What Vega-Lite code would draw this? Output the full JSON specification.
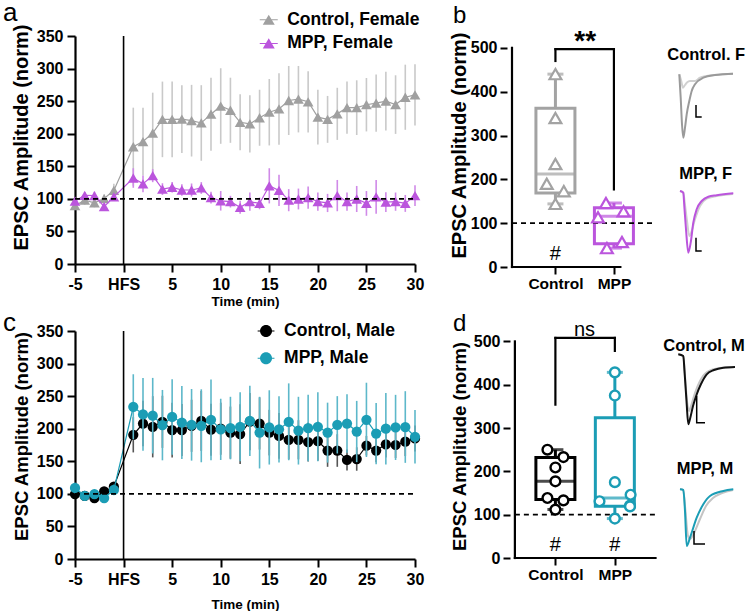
{
"$schema": "https://vega.github.io/schema/vega-lite/v6.json",
"padding": {"left": 3, "top": 0, "right": 0, "bottom": 0},
"config": {
  "font": "Liberation Sans",
  "view": {"stroke": null},
  "axis": {"domainColor": "black", "domainWidth": 2.2, "tickColor": "black", "tickWidth": 2, "labelColor": "black", "labelFont": "Liberation Sans", "labelFontWeight": "bold", "labelFontSize": 16, "titleFont": "Liberation Sans", "titleFontWeight": "bold", "titleColor": "black", "grid": false, "labelOverlap": false, "labelFlush": false},
  "text": {"font": "Liberation Sans", "color": "black"},
  "legend": {"labelFont": "Liberation Sans", "labelColor": "black"}
},
"resolve": {"scale": {"color": "independent", "stroke": "independent"}, "legend": {"color": "independent", "stroke": "independent"}},
"datasets": {
  "one": [{"k": 1}],
  "fem": [
    {"s":"Control, Female","t":-5,"mean":89.5,"sem":6},{"s":"Control, Female","t":-4,"mean":98,"sem":7},{"s":"Control, Female","t":-3,"mean":94,"sem":7},{"s":"Control, Female","t":-2,"mean":100.5,"sem":6},{"s":"Control, Female","t":-1,"mean":113,"sem":10},
    {"s":"Control, Female","t":1,"mean":180,"sem":60},{"s":"Control, Female","t":2,"mean":188,"sem":52},{"s":"Control, Female","t":3,"mean":201,"sem":62},{"s":"Control, Female","t":4,"mean":222,"sem":58},{"s":"Control, Female","t":5,"mean":222,"sem":58},
    {"s":"Control, Female","t":6,"mean":222.5,"sem":52},{"s":"Control, Female","t":7,"mean":220,"sem":55},{"s":"Control, Female","t":8,"mean":216.5,"sem":58},{"s":"Control, Female","t":9,"mean":230,"sem":56},{"s":"Control, Female","t":10,"mean":242.5,"sem":58},
    {"s":"Control, Female","t":11,"mean":236,"sem":50},{"s":"Control, Female","t":12,"mean":217.5,"sem":43},{"s":"Control, Female","t":13,"mean":215,"sem":44},{"s":"Control, Female","t":14,"mean":224.5,"sem":43},{"s":"Control, Female","t":15,"mean":233,"sem":51},
    {"s":"Control, Female","t":16,"mean":238,"sem":55},{"s":"Control, Female","t":17,"mean":251,"sem":53},{"s":"Control, Female","t":18,"mean":253,"sem":51},{"s":"Control, Female","t":19,"mean":249,"sem":47},{"s":"Control, Female","t":20,"mean":225.5,"sem":42},
    {"s":"Control, Female","t":21,"mean":222,"sem":36},{"s":"Control, Female","t":22,"mean":230.5,"sem":40},{"s":"Control, Female","t":23,"mean":240,"sem":40},{"s":"Control, Female","t":24,"mean":240,"sem":42},{"s":"Control, Female","t":25,"mean":244.5,"sem":41},
    {"s":"Control, Female","t":26,"mean":247,"sem":44},{"s":"Control, Female","t":27,"mean":250,"sem":45},{"s":"Control, Female","t":28,"mean":244.7,"sem":45},{"s":"Control, Female","t":29,"mean":256,"sem":50},{"s":"Control, Female","t":30,"mean":259.6,"sem":47},
    {"s":"MPP, Female","t":-5,"mean":96.5,"sem":5},{"s":"MPP, Female","t":-4,"mean":105.5,"sem":5},{"s":"MPP, Female","t":-3,"mean":105,"sem":6},{"s":"MPP, Female","t":-2,"mean":88,"sem":6},{"s":"MPP, Female","t":-1,"mean":103,"sem":5},
    {"s":"MPP, Female","t":1,"mean":132,"sem":15},{"s":"MPP, Female","t":2,"mean":123,"sem":13},{"s":"MPP, Female","t":3,"mean":135.6,"sem":10},{"s":"MPP, Female","t":4,"mean":115,"sem":9},{"s":"MPP, Female","t":5,"mean":117.7,"sem":8},
    {"s":"MPP, Female","t":6,"mean":113.6,"sem":9},{"s":"MPP, Female","t":7,"mean":113.6,"sem":10},{"s":"MPP, Female","t":8,"mean":116.7,"sem":9},{"s":"MPP, Female","t":9,"mean":102,"sem":9},{"s":"MPP, Female","t":10,"mean":97,"sem":15},
    {"s":"MPP, Female","t":11,"mean":95.7,"sem":9},{"s":"MPP, Female","t":12,"mean":87,"sem":10},{"s":"MPP, Female","t":13,"mean":95.7,"sem":14},{"s":"MPP, Female","t":14,"mean":93,"sem":9},{"s":"MPP, Female","t":15,"mean":120,"sem":27},
    {"s":"MPP, Female","t":16,"mean":113,"sem":24},{"s":"MPP, Female","t":17,"mean":98,"sem":17},{"s":"MPP, Female","t":18,"mean":99.8,"sem":16},{"s":"MPP, Female","t":19,"mean":102,"sem":17},{"s":"MPP, Female","t":20,"mean":95.7,"sem":14},
    {"s":"MPP, Female","t":21,"mean":93.7,"sem":14},{"s":"MPP, Female","t":22,"mean":105,"sem":24},{"s":"MPP, Female","t":23,"mean":95.7,"sem":14},{"s":"MPP, Female","t":24,"mean":99.8,"sem":20},{"s":"MPP, Female","t":25,"mean":93,"sem":19},
    {"s":"MPP, Female","t":26,"mean":103,"sem":26},{"s":"MPP, Female","t":27,"mean":95,"sem":15},{"s":"MPP, Female","t":28,"mean":95.7,"sem":14},{"s":"MPP, Female","t":29,"mean":93,"sem":13},{"s":"MPP, Female","t":30,"mean":105,"sem":16}
  ],
  "mal": [
    {"s":"Control, Male","t":-5,"mean":99.7,"sem":5},{"s":"Control, Male","t":-4,"mean":97,"sem":5},{"s":"Control, Male","t":-3,"mean":93.6,"sem":6},{"s":"Control, Male","t":-2,"mean":103.7,"sem":6},{"s":"Control, Male","t":-1,"mean":111,"sem":7},
    {"s":"Control, Male","t":1,"mean":190.6,"sem":27},{"s":"Control, Male","t":2,"mean":208,"sem":35},{"s":"Control, Male","t":3,"mean":203,"sem":47},{"s":"Control, Male","t":4,"mean":210.6,"sem":40},{"s":"Control, Male","t":5,"mean":198,"sem":42},
    {"s":"Control, Male","t":6,"mean":198,"sem":40},{"s":"Control, Male","t":7,"mean":204.5,"sem":40},{"s":"Control, Male","t":8,"mean":212,"sem":46},{"s":"Control, Male","t":9,"mean":198.5,"sem":40},{"s":"Control, Male","t":10,"mean":200,"sem":40},
    {"s":"Control, Male","t":11,"mean":194,"sem":40},{"s":"Control, Male","t":12,"mean":191.7,"sem":46},{"s":"Control, Male","t":13,"mean":211,"sem":44},{"s":"Control, Male","t":14,"mean":208,"sem":40},{"s":"Control, Male","t":15,"mean":194,"sem":35},
    {"s":"Control, Male","t":16,"mean":189,"sem":35},{"s":"Control, Male","t":17,"mean":183,"sem":30},{"s":"Control, Male","t":18,"mean":183,"sem":30},{"s":"Control, Male","t":19,"mean":179.5,"sem":30},{"s":"Control, Male","t":20,"mean":181,"sem":30},
    {"s":"Control, Male","t":21,"mean":166.5,"sem":25},{"s":"Control, Male","t":22,"mean":166.5,"sem":25},{"s":"Control, Male","t":23,"mean":152,"sem":16},{"s":"Control, Male","t":24,"mean":153.5,"sem":18},{"s":"Control, Male","t":25,"mean":174,"sem":15},
    {"s":"Control, Male","t":26,"mean":166.5,"sem":18},{"s":"Control, Male","t":27,"mean":176,"sem":20},{"s":"Control, Male","t":28,"mean":175,"sem":20},{"s":"Control, Male","t":29,"mean":180,"sem":22},{"s":"Control, Male","t":30,"mean":185,"sem":20},
    {"s":"MPP, Male","t":-5,"mean":109,"sem":8},{"s":"MPP, Male","t":-4,"mean":97,"sem":6},{"s":"MPP, Male","t":-3,"mean":99.7,"sem":7},{"s":"MPP, Male","t":-2,"mean":93.6,"sem":7},{"s":"MPP, Male","t":-1,"mean":106,"sem":8},
    {"s":"MPP, Male","t":1,"mean":233.6,"sem":50},{"s":"MPP, Male","t":2,"mean":222,"sem":56},{"s":"MPP, Male","t":3,"mean":220,"sem":58},{"s":"MPP, Male","t":4,"mean":205.5,"sem":54},{"s":"MPP, Male","t":5,"mean":218,"sem":58},
    {"s":"MPP, Male","t":6,"mean":209.5,"sem":56},{"s":"MPP, Male","t":7,"mean":206,"sem":55},{"s":"MPP, Male","t":8,"mean":204.5,"sem":56},{"s":"MPP, Male","t":9,"mean":213.6,"sem":62},{"s":"MPP, Male","t":10,"mean":199,"sem":47},
    {"s":"MPP, Male","t":11,"mean":201,"sem":48},{"s":"MPP, Male","t":12,"mean":203,"sem":53},{"s":"MPP, Male","t":13,"mean":212,"sem":54},{"s":"MPP, Male","t":14,"mean":194,"sem":55},{"s":"MPP, Male","t":15,"mean":202,"sem":57},
    {"s":"MPP, Male","t":16,"mean":199,"sem":51},{"s":"MPP, Male","t":17,"mean":210.6,"sem":59},{"s":"MPP, Male","t":18,"mean":197,"sem":52},{"s":"MPP, Male","t":19,"mean":201,"sem":51},{"s":"MPP, Male","t":20,"mean":203,"sem":53},
    {"s":"MPP, Male","t":21,"mean":194,"sem":46},{"s":"MPP, Male","t":22,"mean":206,"sem":44},{"s":"MPP, Male","t":23,"mean":208,"sem":45},{"s":"MPP, Male","t":24,"mean":195.7,"sem":47},{"s":"MPP, Male","t":25,"mean":213.6,"sem":57},
    {"s":"MPP, Male","t":26,"mean":192.6,"sem":47},{"s":"MPP, Male","t":27,"mean":200,"sem":55},{"s":"MPP, Male","t":28,"mean":202,"sem":50},{"s":"MPP, Male","t":29,"mean":202.6,"sem":55},{"s":"MPP, Male","t":30,"mean":187.6,"sem":41}
  ],
  "bstats": [
    {"g":"Control","pos":1,"min":144,"q1":169,"med":212,"q3":362,"max":440},
    {"g":"MPP","pos":2,"min":43,"q1":53,"med":116,"q3":135,"max":146}
  ],
  "bpts": [
    {"g":"Control","x":1,"v":440},{"g":"Control","x":1,"v":340},{"g":"Control","x":1,"v":235},{"g":"Control","x":0.852,"v":190},{"g":"Control","x":1.143,"v":173},{"g":"Control","x":1,"v":144},
    {"g":"MPP","x":1.864,"v":146},{"g":"MPP","x":1.728,"v":113.5},{"g":"MPP","x":2.164,"v":127},{"g":"MPP","x":2.138,"v":57},{"g":"MPP","x":1.88,"v":43}
  ],
  "dstats": [
    {"g":"Control","pos":1,"min":112,"q1":135,"med":177,"q3":232,"max":250},
    {"g":"MPP","pos":2,"min":91,"q1":119.5,"med":138.5,"q3":324,"max":428.5}
  ],
  "dpts": [
    {"g":"Control","x":0.866,"v":250},{"g":"Control","x":1.135,"v":233},{"g":"Control","x":1,"v":209},{"g":"Control","x":1,"v":177},{"g":"Control","x":0.866,"v":138.5},{"g":"Control","x":1.135,"v":133},{"g":"Control","x":1,"v":111.7},
    {"g":"MPP","x":2,"v":428.5},{"g":"MPP","x":2,"v":375},{"g":"MPP","x":2,"v":175},{"g":"MPP","x":2.265,"v":146},{"g":"MPP","x":1.742,"v":131},{"g":"MPP","x":2.255,"v":121},{"g":"MPP","x":2.255,"v":119},{"g":"MPP","x":2,"v":91}
  ],
  "tr": [
    {"p":"CF","k":"light","t":19.3,"v":-1.3},{"p":"CF","k":"light","t":21,"v":-7},{"p":"CF","k":"light","t":23,"v":-14.7},{"p":"CF","k":"light","t":25,"v":-12},{"p":"CF","k":"light","t":27,"v":-9.5},{"p":"CF","k":"light","t":30,"v":-8},{"p":"CF","k":"light","t":35,"v":-8},{"p":"CF","k":"light","t":40,"v":-4.7},{"p":"CF","k":"light","t":46.7,"v":-3},{"p":"CF","k":"light","t":60,"v":-1.5},{"p":"CF","k":"light","t":73,"v":-0.7},
    {"p":"CF","k":"dark","t":19.3,"v":-1.3},{"p":"CF","k":"dark","t":20.7,"v":-24.7},{"p":"CF","k":"dark","t":22,"v":-51.3},{"p":"CF","k":"dark","t":23.3,"v":-64.7},{"p":"CF","k":"dark","t":25,"v":-54.7},{"p":"CF","k":"dark","t":26.7,"v":-41.3},{"p":"CF","k":"dark","t":29.3,"v":-28},{"p":"CF","k":"dark","t":31.7,"v":-18},{"p":"CF","k":"dark","t":35,"v":-11.3},{"p":"CF","k":"dark","t":43.3,"v":-4.7},{"p":"CF","k":"dark","t":55,"v":-2},{"p":"CF","k":"dark","t":73,"v":-0.7},
    {"p":"CF","k":"bar","i":0,"t":36,"v":-32},{"p":"CF","k":"bar","i":1,"t":36,"v":-44},{"p":"CF","k":"bar","i":2,"t":41.7,"v":-44},
    {"p":"MF","k":"light","t":20,"v":2},{"p":"MF","k":"light","t":23.3,"v":0.3},{"p":"MF","k":"light","t":25,"v":-12},{"p":"MF","k":"light","t":27,"v":-28},{"p":"MF","k":"light","t":29.3,"v":-43},{"p":"MF","k":"light","t":31.7,"v":-38},{"p":"MF","k":"light","t":35,"v":-26.3},{"p":"MF","k":"light","t":40,"v":-13},{"p":"MF","k":"light","t":46.7,"v":-5.7},{"p":"MF","k":"light","t":56.7,"v":-3},{"p":"MF","k":"light","t":73,"v":-1},
    {"p":"MF","k":"dark","t":20,"v":2},{"p":"MF","k":"dark","t":23.3,"v":0.3},{"p":"MF","k":"dark","t":24.3,"v":-13},{"p":"MF","k":"dark","t":26,"v":-36.3},{"p":"MF","k":"dark","t":28.3,"v":-59.7},{"p":"MF","k":"dark","t":30.7,"v":-49.7},{"p":"MF","k":"dark","t":33.3,"v":-29.7},{"p":"MF","k":"dark","t":36.7,"v":-16.3},{"p":"MF","k":"dark","t":41.7,"v":-8},{"p":"MF","k":"dark","t":48.3,"v":-3.7},{"p":"MF","k":"dark","t":56.7,"v":-2.3},{"p":"MF","k":"dark","t":73.3,"v":-0.3},
    {"p":"MF","k":"bar","i":0,"t":36,"v":-44.7},{"p":"MF","k":"bar","i":1,"t":36,"v":-58},{"p":"MF","k":"bar","i":2,"t":41.7,"v":-58},
    {"p":"CM","k":"light","t":18.3,"v":12.7},{"p":"CM","k":"light","t":23.3,"v":11},{"p":"CM","k":"light","t":25,"v":-9},{"p":"CM","k":"light","t":27,"v":-34},{"p":"CM","k":"light","t":29,"v":-44},{"p":"CM","k":"light","t":31,"v":-39},{"p":"CM","k":"light","t":35,"v":-26},{"p":"CM","k":"light","t":40,"v":-14},{"p":"CM","k":"light","t":47,"v":-5},{"p":"CM","k":"light","t":60,"v":-1},{"p":"CM","k":"light","t":75,"v":0},
    {"p":"CM","k":"dark","t":18.3,"v":12.7},{"p":"CM","k":"dark","t":23.3,"v":11},{"p":"CM","k":"dark","t":24.5,"v":-4},{"p":"CM","k":"dark","t":26.5,"v":-34},{"p":"CM","k":"dark","t":28.3,"v":-57.3},{"p":"CM","k":"dark","t":30,"v":-52},{"p":"CM","k":"dark","t":33,"v":-39},{"p":"CM","k":"dark","t":36.7,"v":-27.3},{"p":"CM","k":"dark","t":41,"v":-17},{"p":"CM","k":"dark","t":46.7,"v":-7.3},{"p":"CM","k":"dark","t":54,"v":-3},{"p":"CM","k":"dark","t":63.3,"v":-0.7},{"p":"CM","k":"dark","t":75,"v":0},
    {"p":"CM","k":"bar","i":0,"t":36.7,"v":-29},{"p":"CM","k":"bar","i":1,"t":36.7,"v":-55.7},{"p":"CM","k":"bar","i":2,"t":45,"v":-55.7},
    {"p":"MM","k":"light","t":20,"v":0},{"p":"MM","k":"light","t":23.3,"v":-1},{"p":"MM","k":"light","t":25,"v":-17},{"p":"MM","k":"light","t":28,"v":-47},{"p":"MM","k":"light","t":30,"v":-50},{"p":"MM","k":"light","t":35,"v":-42},{"p":"MM","k":"light","t":40,"v":-30},{"p":"MM","k":"light","t":46,"v":-17},{"p":"MM","k":"light","t":53,"v":-9},{"p":"MM","k":"light","t":62,"v":-4},{"p":"MM","k":"light","t":73,"v":-1},
    {"p":"MM","k":"dark","t":20,"v":-0.3},{"p":"MM","k":"dark","t":23.3,"v":-1},{"p":"MM","k":"dark","t":25,"v":-22},{"p":"MM","k":"dark","t":26.7,"v":-57},{"p":"MM","k":"dark","t":30,"v":-48.7},{"p":"MM","k":"dark","t":36.7,"v":-28.7},{"p":"MM","k":"dark","t":43.3,"v":-15.3},{"p":"MM","k":"dark","t":50,"v":-7},{"p":"MM","k":"dark","t":63.3,"v":-2},{"p":"MM","k":"dark","t":73.3,"v":-0.3},
    {"p":"MM","k":"bar","i":0,"t":34,"v":-42},{"p":"MM","k":"bar","i":1,"t":34,"v":-55},{"p":"MM","k":"bar","i":2,"t":45,"v":-55}
  ]
},
"columns": 2,
"spacing": {"row": 64, "column": 92},
"bounds": "flush",
"align": "each",
"concat": [
  {
    "width": 340, "height": 228,
    "layer": [
      {
        "data": {"name": "fem"},
        "encoding": {
          "x": {"field": "t", "type": "quantitative", "scale": {"domain": [-5, 30], "nice": false, "zero": false},
                "axis": {"values": [-5,0,5,10,15,20,25,30], "labelExpr": "datum.value == 0 ? 'HFS' : '' + datum.value", "tickSize": 8, "labelPadding": 4, "title": "Time (min)", "titleFontSize": 13.5, "titleY": 41, "titleBaseline": "alphabetic"}},
          "y": {"field": "mean", "type": "quantitative", "scale": {"domain": [0, 350], "nice": false, "zero": false},
                "axis": {"values": [0,50,100,150,200,250,300,350], "tickSize": 8, "labelPadding": 4, "title": "EPSC Amplitude (norm)", "titleFontSize": 20, "titleX": -48, "titleY": 101, "titleBaseline": "alphabetic"}}
        },
        "layer": [
          {"transform": [{"filter": "datum.s == 'Control, Female'"}], "mark": {"type": "errorbar", "color": "#c9c9c9", "thickness": 1.6}, "encoding": {"yError": {"field": "sem"}}},
          {"transform": [{"filter": "datum.s == 'Control, Female'"}], "mark": {"type": "line", "color": "#a0a0a0", "strokeWidth": 1.2}},
          {"transform": [{"filter": "datum.s == 'Control, Female'"}], "mark": {"type": "point", "shape": "triangle-up", "filled": true, "size": 115, "opacity": 1},
           "encoding": {"color": {"field": "s", "type": "nominal", "scale": {"domain": ["Control, Female", "MPP, Female"], "range": ["#a0a0a0", "#bb55dd"]},
             "legend": {"orient": "none", "legendX": 185, "legendY": -25, "title": null, "symbolType": "M-1.5,-0.09H1.5V0.09H-1.5ZM0,-0.85L1,0.85H-1Z", "symbolSize": 144, "symbolOpacity": 1, "symbolStrokeWidth": 0, "labelFontSize": 17.5, "labelFontWeight": "bold", "labelOffset": 9.7, "rowPadding": 4.7, "padding": 0}}}},
          {"transform": [{"filter": "datum.s == 'MPP, Female'"}], "mark": {"type": "errorbar", "color": "#d08ae8", "thickness": 1.6}, "encoding": {"yError": {"field": "sem"}}},
          {"transform": [{"filter": "datum.s == 'MPP, Female'"}], "mark": {"type": "line", "color": "#bb55dd", "strokeWidth": 1.2}},
          {"transform": [{"filter": "datum.s == 'MPP, Female'"}], "mark": {"type": "point", "shape": "triangle-up", "filled": true, "size": 115, "opacity": 1},
           "encoding": {"color": {"field": "s", "type": "nominal", "scale": {"domain": ["Control, Female", "MPP, Female"], "range": ["#a0a0a0", "#bb55dd"]},
             "legend": {"orient": "none", "legendX": 185, "legendY": -25, "title": null, "symbolType": "M-1.5,-0.09H1.5V0.09H-1.5ZM0,-0.85L1,0.85H-1Z", "symbolSize": 144, "symbolOpacity": 1, "symbolStrokeWidth": 0, "labelFontSize": 17.5, "labelFontWeight": "bold", "labelOffset": 9.7, "rowPadding": 4.7, "padding": 0}}}}
        ]
      },
      {
        "data": {"name": "one"},
        "layer": [
          {"mark": {"type": "rule", "strokeDash": [5, 4], "strokeWidth": 1.8, "color": "black"},
           "encoding": {
             "x": {"datum": -5, "type": "quantitative", "scale": {"domain": [-5, 30], "nice": false, "zero": false},
                   "axis": {"values": [-5,0,5,10,15,20,25,30], "labelExpr": "datum.value == 0 ? 'HFS' : '' + datum.value", "tickSize": 8, "labelPadding": 4, "title": "Time (min)", "titleFontSize": 13.5, "titleY": 41, "titleBaseline": "alphabetic"}},
             "x2": {"datum": 30},
             "y": {"datum": 100, "type": "quantitative", "scale": {"domain": [0, 350], "nice": false, "zero": false},
                   "axis": {"values": [0,50,100,150,200,250,300,350], "tickSize": 8, "labelPadding": 4, "title": "EPSC Amplitude (norm)", "titleFontSize": 20, "titleX": -48, "titleY": 101, "titleBaseline": "alphabetic"}}}},
          {"mark": {"type": "rule", "strokeWidth": 1.6, "color": "black"},
           "encoding": {
             "x": {"datum": 0, "type": "quantitative", "scale": {"domain": [-5, 30], "nice": false, "zero": false},
                   "axis": {"values": [-5,0,5,10,15,20,25,30], "labelExpr": "datum.value == 0 ? 'HFS' : '' + datum.value", "tickSize": 8, "labelPadding": 4, "title": "Time (min)", "titleFontSize": 13.5, "titleY": 41, "titleBaseline": "alphabetic"}},
             "y": {"datum": 0, "type": "quantitative", "scale": {"domain": [0, 350], "nice": false, "zero": false},
                   "axis": {"values": [0,50,100,150,200,250,300,350], "tickSize": 8, "labelPadding": 4, "title": "EPSC Amplitude (norm)", "titleFontSize": 20, "titleX": -48, "titleY": 101, "titleBaseline": "alphabetic"}},
             "y2": {"datum": 350}}},
          {"mark": {"type": "text", "text": "a", "align": "left", "baseline": "alphabetic", "fontSize": 26},
           "encoding": {
             "x": {"datum": -12.41, "type": "quantitative", "scale": {"domain": [-5, 30], "nice": false, "zero": false},
                   "axis": {"values": [-5,0,5,10,15,20,25,30], "labelExpr": "datum.value == 0 ? 'HFS' : '' + datum.value", "tickSize": 8, "labelPadding": 4, "title": "Time (min)", "titleFontSize": 13.5, "titleY": 41, "titleBaseline": "alphabetic"}},
             "y": {"datum": 372.7, "type": "quantitative", "scale": {"domain": [0, 350], "nice": false, "zero": false},
                   "axis": {"values": [0,50,100,150,200,250,300,350], "tickSize": 8, "labelPadding": 4, "title": "EPSC Amplitude (norm)", "titleFontSize": 20, "titleX": -48, "titleY": 101, "titleBaseline": "alphabetic"}}}}
        ]
      }
    ]
  },
  {
    "width": 243, "height": 231,
    "resolve": {"scale": {"x": "independent", "y": "independent"}},
    "layer": [
      {
        "layer": [
          {"data": {"name": "bstats"}, "mark": {"type": "bar", "size": 39, "fillOpacity": 0, "strokeWidth": 3},
           "encoding": {
            "x": {"field": "pos", "type": "quantitative", "scale": {"domain": [0.2574, 4.241], "nice": false, "zero": false},
                  "axis": {"orient": "bottom", "values": [1, 2], "labelExpr": "datum.value == 1 ? 'Control' : 'MPP'", "domain": false, "tickSize": 7, "labelPadding": 2, "labelFontSize": 15.5, "title": null}},
            "y": {"field": "q1", "type": "quantitative", "scale": {"domain": [0, 527], "nice": false, "zero": false},
                  "axis": {"orient": "left", "values": [0,100,200,300,400,500], "domain": false, "tickSize": 7, "labelPadding": 3, "title": "EPSC Amplitude (norm)", "titleFontSize": 20, "titleX": -42, "titleY": 109, "titleBaseline": "alphabetic"}},
            "y2": {"field": "q3"},
            "stroke": {"field": "g", "type": "nominal", "scale": {"domain": ["Control", "MPP"], "range": ["#a3a3a3", "#bb55dd"]}, "legend": null}}},
          {"data": {"name": "one"}, "mark": {"type": "rule", "strokeDash": [5, 4], "strokeWidth": 1.8, "color": "black"}, "encoding": {"x": {"datum": 0.2574}, "x2": {"datum": 2.711}, "y": {"datum": 100}}},
          {"data": {"name": "one"}, "mark": {"type": "rule", "strokeWidth": 2.2, "color": "black", "strokeCap": "square"}, "encoding": {"x": {"datum": 0.2574}, "y": {"datum": 0}, "y2": {"datum": 500}}},
          {"data": {"name": "one"}, "mark": {"type": "rule", "strokeWidth": 2.2, "color": "black", "strokeCap": "square"}, "encoding": {"x": {"datum": 0.2574}, "x2": {"datum": 2.11}, "y": {"datum": 0}}},
          {"data": {"name": "bstats"}, "mark": {"type": "rule", "strokeWidth": 3}, "encoding": {"x": {"field": "pos", "type": "quantitative"}, "y": {"field": "q3", "type": "quantitative"}, "y2": {"field": "max"}, "stroke": {"field": "g", "type": "nominal", "legend": null}}},
          {"data": {"name": "bstats"}, "mark": {"type": "rule", "strokeWidth": 3}, "encoding": {"x": {"field": "pos", "type": "quantitative"}, "y": {"field": "min", "type": "quantitative"}, "y2": {"field": "q1"}, "stroke": {"field": "g", "type": "nominal", "legend": null}}},
          {"data": {"name": "bstats"}, "mark": {"type": "tick", "orient": "horizontal", "size": 39, "thickness": 3}, "encoding": {"x": {"field": "pos", "type": "quantitative"}, "y": {"field": "med", "type": "quantitative"}, "color": {"field": "g", "type": "nominal", "scale": {"domain": ["Control", "MPP"], "range": ["#a3a3a3", "#bb55dd"]}, "legend": null}}},
          {"data": {"name": "bstats"}, "mark": {"type": "tick", "orient": "horizontal", "size": 16, "thickness": 3}, "encoding": {"x": {"field": "pos", "type": "quantitative"}, "y": {"field": "max", "type": "quantitative"}, "color": {"field": "g", "type": "nominal", "legend": null}}},
          {"data": {"name": "bstats"}, "mark": {"type": "tick", "orient": "horizontal", "size": 16, "thickness": 3}, "encoding": {"x": {"field": "pos", "type": "quantitative"}, "y": {"field": "min", "type": "quantitative"}, "color": {"field": "g", "type": "nominal", "legend": null}}},
          {"data": {"name": "bpts"}, "mark": {"type": "point", "shape": "triangle-up", "filled": true, "fill": "white", "size": 140, "strokeWidth": 2.2, "opacity": 1},
           "encoding": {"x": {"field": "x", "type": "quantitative"}, "y": {"field": "v", "type": "quantitative"}, "stroke": {"field": "g", "type": "nominal", "legend": null}}},
          {"data": {"name": "one"}, "mark": {"type": "rule", "strokeWidth": 2.2, "color": "black", "strokeCap": "square"}, "encoding": {"x": {"datum": 1}, "y": {"datum": 470}, "y2": {"datum": 497}}},
          {"data": {"name": "one"}, "mark": {"type": "rule", "strokeWidth": 2.2, "color": "black", "strokeCap": "square"}, "encoding": {"x": {"datum": 1}, "x2": {"datum": 2}, "y": {"datum": 497}}},
          {"data": {"name": "one"}, "mark": {"type": "rule", "strokeWidth": 2.2, "color": "black", "strokeCap": "square"}, "encoding": {"x": {"datum": 2}, "y": {"datum": 177}, "y2": {"datum": 497}}},
          {"data": {"name": "one"}, "mark": {"type": "text", "text": "**", "align": "center", "baseline": "alphabetic", "fontSize": 28, "fontWeight": "bold"}, "encoding": {"x": {"datum": 1.508}, "y": {"datum": 495}}},
          {"data": {"name": "one"}, "mark": {"type": "text", "text": "#", "align": "center", "baseline": "alphabetic", "fontSize": 20}, "encoding": {"x": {"datum": 1}, "y": {"datum": 17}}},
          {"data": {"name": "one"}, "mark": {"type": "text", "text": "b", "align": "left", "baseline": "alphabetic", "fontSize": 24}, "encoding": {"x": {"datum": -0.751}, "y": {"datum": 557}}}
        ]
      },
      {
        "data": {"name": "tr"},
        "layer": [
          {"transform": [{"filter": "datum.p == 'CF' && datum.k == 'light'"}], "mark": {"type": "line", "color": "#d0d0d0", "strokeWidth": 2, "interpolate": "monotone"},
           "encoding": {"x": {"field": "t", "type": "quantitative", "scale": {"domain": [-153, 90], "nice": false, "zero": false}, "axis": null}, "y": {"field": "v", "type": "quantitative", "scale": {"domain": [-194, 37], "nice": false, "zero": false}, "axis": null}}},
          {"transform": [{"filter": "datum.p == 'CF' && datum.k == 'dark'"}], "mark": {"type": "line", "color": "#9a9a9a", "strokeWidth": 2, "interpolate": "monotone"},
           "encoding": {"x": {"field": "t", "type": "quantitative", "axis": null}, "y": {"field": "v", "type": "quantitative", "axis": null}}},
          {"transform": [{"filter": "datum.p == 'CF' && datum.k == 'bar'"}], "mark": {"type": "line", "color": "black", "strokeWidth": 1.5},
           "encoding": {"x": {"field": "t", "type": "quantitative", "axis": null}, "y": {"field": "v", "type": "quantitative", "axis": null}, "order": {"field": "i", "type": "quantitative"}}},
          {"data": {"name": "one"}, "mark": {"type": "text", "text": "Control. F", "align": "left", "baseline": "alphabetic", "fontSize": 16.5, "fontWeight": "bold"}, "encoding": {"x": {"datum": 7.3, "axis": null}, "y": {"datum": 12.7, "axis": null}}}
        ]
      },
      {
        "data": {"name": "tr"},
        "layer": [
          {"transform": [{"filter": "datum.p == 'MF' && datum.k == 'light'"}], "mark": {"type": "line", "color": "#d0d0d0", "strokeWidth": 2, "interpolate": "monotone"},
           "encoding": {"x": {"field": "t", "type": "quantitative", "scale": {"domain": [-153, 90], "nice": false, "zero": false}, "axis": null}, "y": {"field": "v", "type": "quantitative", "scale": {"domain": [-74, 157], "nice": false, "zero": false}, "axis": null}}},
          {"transform": [{"filter": "datum.p == 'MF' && datum.k == 'dark'"}], "mark": {"type": "line", "color": "#bb55dd", "strokeWidth": 2, "interpolate": "monotone"},
           "encoding": {"x": {"field": "t", "type": "quantitative", "axis": null}, "y": {"field": "v", "type": "quantitative", "axis": null}}},
          {"transform": [{"filter": "datum.p == 'MF' && datum.k == 'bar'"}], "mark": {"type": "line", "color": "black", "strokeWidth": 1.5},
           "encoding": {"x": {"field": "t", "type": "quantitative", "axis": null}, "y": {"field": "v", "type": "quantitative", "axis": null}, "order": {"field": "i", "type": "quantitative"}}},
          {"data": {"name": "one"}, "mark": {"type": "text", "text": "MPP, F", "align": "left", "baseline": "alphabetic", "fontSize": 16.5, "fontWeight": "bold"}, "encoding": {"x": {"datum": 19.3, "axis": null}, "y": {"datum": 13.7, "axis": null}}}
        ]
      }
    ]
  },
  {
    "width": 340, "height": 228,
    "layer": [
      {
        "data": {"name": "mal"},
        "encoding": {
          "x": {"field": "t", "type": "quantitative", "scale": {"domain": [-5, 30], "nice": false, "zero": false},
                "axis": {"values": [-5,0,5,10,15,20,25,30], "labelExpr": "datum.value == 0 ? 'HFS' : '' + datum.value", "tickSize": 8, "labelPadding": 4, "title": "Time (min)", "titleFontSize": 13.5, "titleY": 49, "titleBaseline": "alphabetic"}},
          "y": {"field": "mean", "type": "quantitative", "scale": {"domain": [0, 350], "nice": false, "zero": false},
                "axis": {"values": [0,50,100,150,200,250,300,350], "tickSize": 8, "labelPadding": 4, "title": "EPSC Amplitude (norm)", "titleFontSize": 18.5, "titleX": -48, "titleY": 105, "titleBaseline": "alphabetic"}}
        },
        "layer": [
          {"transform": [{"filter": "datum.s == 'Control, Male'"}], "mark": {"type": "errorbar", "color": "#555555", "thickness": 1.6}, "encoding": {"yError": {"field": "sem"}}},
          {"transform": [{"filter": "datum.s == 'Control, Male'"}], "mark": {"type": "line", "color": "#000000", "strokeWidth": 1.2}},
          {"transform": [{"filter": "datum.s == 'Control, Male'"}], "mark": {"type": "point", "shape": "circle", "filled": true, "size": 105, "opacity": 1},
           "encoding": {"color": {"field": "s", "type": "nominal", "scale": {"domain": ["Control, Male", "MPP, Male"], "range": ["#000000", "#1b9db5"]},
             "legend": {"orient": "none", "legendX": 182.3, "legendY": -8.75, "title": null, "symbolType": "M-1.4,-0.09H1.4V0.09H-1.4ZM1,0A1,1,0,1,1,-1,0A1,1,0,1,1,1,0Z", "symbolSize": 144, "symbolOpacity": 1, "symbolStrokeWidth": 0, "labelFontSize": 17.5, "labelFontWeight": "bold", "labelOffset": 9.3, "rowPadding": 8.2, "padding": 0}}}},
          {"transform": [{"filter": "datum.s == 'MPP, Male'"}], "mark": {"type": "errorbar", "color": "#5db8ca", "thickness": 1.6}, "encoding": {"yError": {"field": "sem"}}},
          {"transform": [{"filter": "datum.s == 'MPP, Male'"}], "mark": {"type": "line", "color": "#1b9db5", "strokeWidth": 1.2}},
          {"transform": [{"filter": "datum.s == 'MPP, Male'"}], "mark": {"type": "point", "shape": "circle", "filled": true, "size": 105, "opacity": 1},
           "encoding": {"color": {"field": "s", "type": "nominal", "scale": {"domain": ["Control, Male", "MPP, Male"], "range": ["#000000", "#1b9db5"]},
             "legend": {"orient": "none", "legendX": 182.3, "legendY": -8.75, "title": null, "symbolType": "M-1.4,-0.09H1.4V0.09H-1.4ZM1,0A1,1,0,1,1,-1,0A1,1,0,1,1,1,0Z", "symbolSize": 144, "symbolOpacity": 1, "symbolStrokeWidth": 0, "labelFontSize": 17.5, "labelFontWeight": "bold", "labelOffset": 9.3, "rowPadding": 8.2, "padding": 0}}}}
        ]
      },
      {
        "data": {"name": "one"},
        "layer": [
          {"mark": {"type": "rule", "strokeDash": [5, 4], "strokeWidth": 1.8, "color": "black"},
           "encoding": {
             "x": {"datum": -5, "type": "quantitative", "scale": {"domain": [-5, 30], "nice": false, "zero": false},
                   "axis": {"values": [-5,0,5,10,15,20,25,30], "labelExpr": "datum.value == 0 ? 'HFS' : '' + datum.value", "tickSize": 8, "labelPadding": 4, "title": "Time (min)", "titleFontSize": 13.5, "titleY": 49, "titleBaseline": "alphabetic"}},
             "x2": {"datum": 30},
             "y": {"datum": 100, "type": "quantitative", "scale": {"domain": [0, 350], "nice": false, "zero": false},
                   "axis": {"values": [0,50,100,150,200,250,300,350], "tickSize": 8, "labelPadding": 4, "title": "EPSC Amplitude (norm)", "titleFontSize": 18.5, "titleX": -48, "titleY": 105, "titleBaseline": "alphabetic"}}}},
          {"mark": {"type": "rule", "strokeWidth": 1.6, "color": "black"},
           "encoding": {
             "x": {"datum": 0, "type": "quantitative", "scale": {"domain": [-5, 30], "nice": false, "zero": false},
                   "axis": {"values": [-5,0,5,10,15,20,25,30], "labelExpr": "datum.value == 0 ? 'HFS' : '' + datum.value", "tickSize": 8, "labelPadding": 4, "title": "Time (min)", "titleFontSize": 13.5, "titleY": 49, "titleBaseline": "alphabetic"}},
             "y": {"datum": 0, "type": "quantitative", "scale": {"domain": [0, 350], "nice": false, "zero": false},
                   "axis": {"values": [0,50,100,150,200,250,300,350], "tickSize": 8, "labelPadding": 4, "title": "EPSC Amplitude (norm)", "titleFontSize": 18.5, "titleX": -48, "titleY": 105, "titleBaseline": "alphabetic"}},
             "y2": {"datum": 350}}},
          {"mark": {"type": "text", "text": "c", "align": "left", "baseline": "alphabetic", "fontSize": 26},
           "encoding": {
             "x": {"datum": -12.41, "type": "quantitative", "scale": {"domain": [-5, 30], "nice": false, "zero": false},
                   "axis": {"values": [-5,0,5,10,15,20,25,30], "labelExpr": "datum.value == 0 ? 'HFS' : '' + datum.value", "tickSize": 8, "labelPadding": 4, "title": "Time (min)", "titleFontSize": 13.5, "titleY": 49, "titleBaseline": "alphabetic"}},
             "y": {"datum": 350.2, "type": "quantitative", "scale": {"domain": [0, 350], "nice": false, "zero": false},
                   "axis": {"values": [0,50,100,150,200,250,300,350], "tickSize": 8, "labelPadding": 4, "title": "EPSC Amplitude (norm)", "titleFontSize": 18.5, "titleX": -48, "titleY": 105, "titleBaseline": "alphabetic"}}}}
        ]
      }
    ]
  },
  {
    "width": 243, "height": 227,
    "resolve": {"scale": {"x": "independent", "y": "independent"}},
    "layer": [
      {
        "layer": [
          {"data": {"name": "dstats"}, "mark": {"type": "bar", "size": 39, "fillOpacity": 0, "strokeWidth": 3},
           "encoding": {
            "x": {"field": "pos", "type": "quantitative", "scale": {"domain": [0.27, 4.189], "nice": false, "zero": false},
                  "axis": {"orient": "bottom", "values": [1, 2], "labelExpr": "datum.value == 1 ? 'Control' : 'MPP'", "domain": false, "tickSize": 7, "labelPadding": 2, "labelFontSize": 15.5, "title": null}},
            "y": {"field": "q1", "type": "quantitative", "scale": {"domain": [0, 524], "nice": false, "zero": false},
                  "axis": {"orient": "left", "offset": -3, "values": [0,100,200,300,400,500], "domain": false, "tickSize": 7, "labelPadding": 3, "title": "EPSC Amplitude (norm)", "titleFontSize": 18.5, "titleX": -45, "titleY": 115, "titleBaseline": "alphabetic"}},
            "y2": {"field": "q3"},
            "stroke": {"field": "g", "type": "nominal", "scale": {"domain": ["Control", "MPP"], "range": ["#000000", "#1b9db5"]}, "legend": null}}},
          {"data": {"name": "one"}, "mark": {"type": "rule", "strokeDash": [5, 4], "strokeWidth": 1.8, "color": "black"}, "encoding": {"x": {"datum": 0.3184}, "x2": {"datum": 2.684}, "y": {"datum": 100}}},
          {"data": {"name": "one"}, "mark": {"type": "rule", "strokeWidth": 2.2, "color": "black", "strokeCap": "square"}, "encoding": {"x": {"datum": 0.3184}, "y": {"datum": 0}, "y2": {"datum": 500}}},
          {"data": {"name": "one"}, "mark": {"type": "rule", "strokeWidth": 2.2, "color": "black", "strokeCap": "square"}, "encoding": {"x": {"datum": 0.3184}, "x2": {"datum": 2.684}, "y": {"datum": 0}}},
          {"data": {"name": "dstats"}, "mark": {"type": "rule", "strokeWidth": 3}, "encoding": {"x": {"field": "pos", "type": "quantitative"}, "y": {"field": "q3", "type": "quantitative"}, "y2": {"field": "max"}, "stroke": {"field": "g", "type": "nominal", "legend": null}}},
          {"data": {"name": "dstats"}, "mark": {"type": "rule", "strokeWidth": 3}, "encoding": {"x": {"field": "pos", "type": "quantitative"}, "y": {"field": "min", "type": "quantitative"}, "y2": {"field": "q1"}, "stroke": {"field": "g", "type": "nominal", "legend": null}}},
          {"data": {"name": "dstats"}, "mark": {"type": "tick", "orient": "horizontal", "size": 39, "thickness": 3}, "encoding": {"x": {"field": "pos", "type": "quantitative"}, "y": {"field": "med", "type": "quantitative"}, "color": {"field": "g", "type": "nominal", "scale": {"domain": ["Control", "MPP"], "range": ["#000000", "#1b9db5"]}, "legend": null}}},
          {"data": {"name": "dstats"}, "mark": {"type": "tick", "orient": "horizontal", "size": 16, "thickness": 3}, "encoding": {"x": {"field": "pos", "type": "quantitative"}, "y": {"field": "max", "type": "quantitative"}, "color": {"field": "g", "type": "nominal", "legend": null}}},
          {"data": {"name": "dstats"}, "mark": {"type": "tick", "orient": "horizontal", "size": 16, "thickness": 3}, "encoding": {"x": {"field": "pos", "type": "quantitative"}, "y": {"field": "min", "type": "quantitative"}, "color": {"field": "g", "type": "nominal", "legend": null}}},
          {"data": {"name": "dpts"}, "mark": {"type": "point", "shape": "circle", "filled": true, "fill": "white", "size": 95, "strokeWidth": 2.4, "opacity": 1},
           "encoding": {"x": {"field": "x", "type": "quantitative"}, "y": {"field": "v", "type": "quantitative"}, "stroke": {"field": "g", "type": "nominal", "legend": null}}},
          {"data": {"name": "one"}, "mark": {"type": "rule", "strokeWidth": 2.2, "color": "black", "strokeCap": "square"}, "encoding": {"x": {"datum": 1}, "y": {"datum": 354}, "y2": {"datum": 508}}},
          {"data": {"name": "one"}, "mark": {"type": "rule", "strokeWidth": 2.2, "color": "black", "strokeCap": "square"}, "encoding": {"x": {"datum": 1}, "x2": {"datum": 2}, "y": {"datum": 508}}},
          {"data": {"name": "one"}, "mark": {"type": "rule", "strokeWidth": 2.2, "color": "black", "strokeCap": "square"}, "encoding": {"x": {"datum": 2}, "y": {"datum": 478}, "y2": {"datum": 508}}},
          {"data": {"name": "one"}, "mark": {"type": "text", "text": "ns", "align": "center", "baseline": "alphabetic", "fontSize": 20}, "encoding": {"x": {"datum": 1.49}, "y": {"datum": 511.6}}},
          {"data": {"name": "one"}, "mark": {"type": "text", "text": "#", "align": "center", "baseline": "alphabetic", "fontSize": 20}, "encoding": {"x": {"datum": 1}, "y": {"datum": 15.5}}},
          {"data": {"name": "one"}, "mark": {"type": "text", "text": "#", "align": "center", "baseline": "alphabetic", "fontSize": 20}, "encoding": {"x": {"datum": 2}, "y": {"datum": 15.5}}},
          {"data": {"name": "one"}, "mark": {"type": "text", "text": "d", "align": "left", "baseline": "alphabetic", "fontSize": 24}, "encoding": {"x": {"datum": -0.722}, "y": {"datum": 523.2}}}
        ]
      },
      {
        "data": {"name": "tr"},
        "layer": [
          {"transform": [{"filter": "datum.p == 'CM' && datum.k == 'light'"}], "mark": {"type": "line", "color": "#c4c4c4", "strokeWidth": 2, "interpolate": "monotone"},
           "encoding": {"x": {"field": "t", "type": "quantitative", "scale": {"domain": [-153, 90], "nice": false, "zero": false}, "axis": null}, "y": {"field": "v", "type": "quantitative", "scale": {"domain": [-191, 36], "nice": false, "zero": false}, "axis": null}}},
          {"transform": [{"filter": "datum.p == 'CM' && datum.k == 'dark'"}], "mark": {"type": "line", "color": "#111111", "strokeWidth": 2, "interpolate": "monotone"},
           "encoding": {"x": {"field": "t", "type": "quantitative", "axis": null}, "y": {"field": "v", "type": "quantitative", "axis": null}}},
          {"transform": [{"filter": "datum.p == 'CM' && datum.k == 'bar'"}], "mark": {"type": "line", "color": "black", "strokeWidth": 1.5},
           "encoding": {"x": {"field": "t", "type": "quantitative", "axis": null}, "y": {"field": "v", "type": "quantitative", "axis": null}, "order": {"field": "i", "type": "quantitative"}}},
          {"data": {"name": "one"}, "mark": {"type": "text", "text": "Control, M", "align": "left", "baseline": "alphabetic", "fontSize": 16.5, "fontWeight": "bold"}, "encoding": {"x": {"datum": 3.3, "axis": null}, "y": {"datum": 16, "axis": null}}}
        ]
      },
      {
        "data": {"name": "tr"},
        "layer": [
          {"transform": [{"filter": "datum.p == 'MM' && datum.k == 'light'"}], "mark": {"type": "line", "color": "#c4c4c4", "strokeWidth": 2, "interpolate": "monotone"},
           "encoding": {"x": {"field": "t", "type": "quantitative", "scale": {"domain": [-153, 90], "nice": false, "zero": false}, "axis": null}, "y": {"field": "v", "type": "quantitative", "scale": {"domain": [-69, 158], "nice": false, "zero": false}, "axis": null}}},
          {"transform": [{"filter": "datum.p == 'MM' && datum.k == 'dark'"}], "mark": {"type": "line", "color": "#1b9db5", "strokeWidth": 2, "interpolate": "monotone"},
           "encoding": {"x": {"field": "t", "type": "quantitative", "axis": null}, "y": {"field": "v", "type": "quantitative", "axis": null}}},
          {"transform": [{"filter": "datum.p == 'MM' && datum.k == 'bar'"}], "mark": {"type": "line", "color": "black", "strokeWidth": 1.5},
           "encoding": {"x": {"field": "t", "type": "quantitative", "axis": null}, "y": {"field": "v", "type": "quantitative", "axis": null}, "order": {"field": "i", "type": "quantitative"}}},
          {"data": {"name": "one"}, "mark": {"type": "text", "text": "MPP, M", "align": "left", "baseline": "alphabetic", "fontSize": 16.5, "fontWeight": "bold"}, "encoding": {"x": {"datum": 16.7, "axis": null}, "y": {"datum": 14.7, "axis": null}}}
        ]
      }
    ]
  }
]
}
